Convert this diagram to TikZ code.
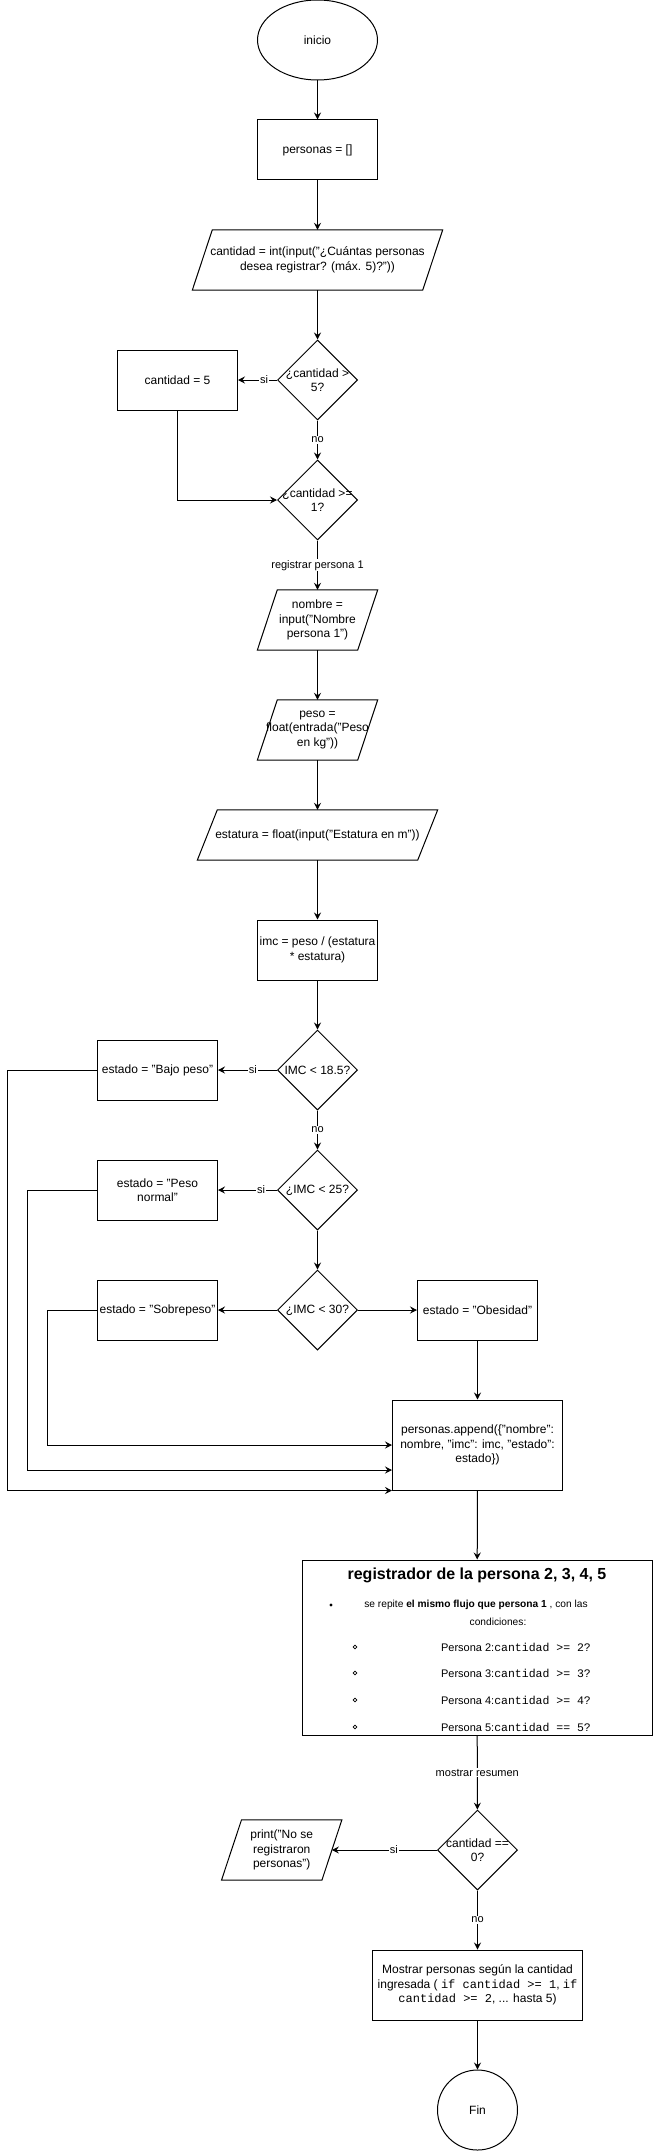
\documentclass[tikz,border=0pt]{standalone}
\usepackage{fontspec}
\setmainfont{Liberation Sans}
\setmonofont{Liberation Mono}
\usetikzlibrary{shapes.geometric,arrows.meta,calc}
\begin{document}
\begin{tikzpicture}[x=1pt,y=-1pt,
  every node/.style={font=\fontsize{12}{14.4}\selectfont, inner sep=1pt},
  box/.style={draw, line width=1pt, rectangle, minimum width=120pt, minimum height=60pt, align=center, inner sep=2pt},
  dec/.style={draw, line width=1pt, diamond, minimum width=80pt, minimum height=80pt, inner sep=0pt},
  oval/.style={draw, line width=1pt, ellipse, minimum width=120pt, minimum height=80pt, inner sep=0pt},
  txt/.style={align=center, inner sep=0pt},
  io/.style={minimum width=120pt, minimum height=60pt, align=center, inner sep=0pt},
  arr/.style={line width=1pt, -{Stealth[length=7pt,width=7pt,inset=2.5pt]}},
  ln/.style={line width=1pt},
  lbl/.style={font=\fontsize{11}{13}\selectfont, fill=white, inner sep=1pt},
  small/.style={font=\fontsize{11}{13}\selectfont, inner sep=0pt},
  smaller/.style={font=\fontsize{10.2}{12}\selectfont, inner sep=0pt},
]
\fill[white] (0,0) rectangle (653,2151);
\useasboundingbox (0,0) rectangle (653,2151);

% nodes
\node[oval] (inicio) at (317.5,40) {inicio};
\node[box] (personas) at (317.5,150) {personas = []};
\node[io, minimum width=250pt] (inp) at (317.5,260) {cantidad = int(input("¿Cuántas personas\\desea registrar? (máx. 5)?"))};
\node[dec] (d1) at (317.5,380) {};
\node[txt] (d1t) at (317.5,380) {¿cantidad >\\5?};
\node[box] (c5) at (177.5,380) {cantidad = 5};
\node[dec] (d2) at (317.5,500) {};
\node[txt] (d2t) at (317.5,500) {¿cantidad >=\\1?};
\node[io] (nombre) at (317.5,620) {nombre =\\input("Nombre\\persona 1")};
\node[io] (peso) at (317.5,730) {peso =\\float(entrada("Peso\\en kg"))};
\node[io, minimum width=240pt, minimum height=50pt] (estatura) at (317.5,835) {estatura = float(input("Estatura en m"))};
\node[box] (imc) at (317.5,950) {imc = peso / (estatura\\* estatura)};
\node[dec] (dB) at (317.5,1070) {};
\node[txt] (dBt) at (317.5,1070) {IMC < 18.5?};
\node[box] (bajo) at (157.5,1070) {estado = "Bajo peso"};
\node[dec] (d25) at (317.5,1190) {};
\node[txt] (d25t) at (317.5,1190) {¿IMC < 25?};
\node[box] (normal) at (157.5,1190) {estado = "Peso\\normal"};
\node[dec] (d30) at (317.5,1310) {};
\node[txt] (d30t) at (317.5,1310) {¿IMC < 30?};
\node[box] (sobre) at (157.5,1310) {estado = "Sobrepeso"};
\node[box] (obes) at (477.5,1310) {estado = "Obesidad"};
\node[box, minimum width=170pt, minimum height=90pt] (append) at (477.5,1445) {personas.append(\{"nombre":\\nombre, "imc": imc, "estado":\\estado\})};
\node[box, minimum width=350pt, minimum height=175pt] (reg) at (477,1647.5) {};
\node[txt, font=\bfseries\fontsize{16}{19}\selectfont] (regt) at (477,1575) {registrador de la persona 2, 3, 4, 5};
\node[smaller] (regl1) at (476,1605) {se repite \textbf{el mismo flujo que persona 1} , con las};
\node[smaller] (regl2) at (498,1622) {condiciones:};
\fill (331,1605) circle (1.6pt);
\node[small] (p2) at (516,1647) {Persona 2:\texttt{\fontsize{11.5}{13}\selectfont cantidad >= 2?}};
\node[small] (p3) at (516,1673) {Persona 3:\texttt{\fontsize{11.5}{13}\selectfont cantidad >= 3?}};
\node[small] (p4) at (516,1700) {Persona 4:\texttt{\fontsize{11.5}{13}\selectfont cantidad >= 4?}};
\node[small] (p5) at (516,1727) {Persona 5:\texttt{\fontsize{11.5}{13}\selectfont cantidad == 5?}};
\foreach \yy in {1647,1673,1700,1727} \draw[line width=0.7pt] (355,\yy) circle (1.8pt);
\node[dec] (d0) at (477.5,1850) {};
\node[txt] (d0t) at (477.5,1850) {cantidad ==\\0?};
\node[io] (print) at (281.7,1850) {print("No se\\registraron\\personas")};
\node[box, minimum width=210pt, minimum height=70pt] (mostrar) at (477.5,1985) {Mostrar personas según la cantidad\\ingresada ( \texttt{if cantidad >= 1}, \texttt{if}\\\texttt{cantidad >= 2}, ... hasta 5)};
\node[oval, minimum width=80pt] (fin) at (477.5,2110) {Fin};

% parallelograms
\foreach \n in {inp,nombre,peso,estatura,print}
  \draw[ln] ([xshift=20pt]\n.north west) -- (\n.north east) -- ([xshift=-20pt]\n.south east) -- (\n.south west) -- cycle;

% connectors
\draw[arr] (inicio) -- (personas);
\draw[arr] (personas) -- (inp);
\draw[arr] (inp) -- (d1);
\draw[arr] (d1) -- node[lbl,pos=0.33]{si} (c5);
\draw[arr] (d1) -- node[lbl]{no} (d2);
\draw[arr] (c5.south) |- (d2.west);
\draw[arr] (d2) -- node[lbl]{registrar persona 1} (nombre);
\draw[arr] (nombre) -- (peso);
\draw[arr] (peso) -- (estatura);
\draw[arr] (estatura) -- (imc);
\draw[arr] (imc) -- (dB);
\draw[arr] (dB) -- node[lbl,pos=0.41]{si} (bajo);
\draw[arr] (dB) -- node[lbl]{no} (d25);
\draw[arr] (d25) -- node[lbl,pos=0.27]{si} (normal);
\draw[arr] (d25) -- (d30);
\draw[arr] (d30) -- (sobre);
\draw[arr] (d30) -- (obes);
\draw[arr] (obes) -- (append);
\draw[arr] (sobre.west) -- ++(-50,0) |- (append.west);
\draw[arr] (normal.west) -- ++(-70,0) |- ([yshift=-25pt]append.west);
\draw[arr] (bajo.west) -- ++(-90,0) |- (append.south west);
\draw[arr] (append) -- (reg);
\draw[arr] (reg) -- node[lbl]{mostrar resumen} (d0);
\draw[arr] (d0) -- node[lbl,pos=0.41]{si} ([xshift=-10pt]print.east);
\draw[arr] (d0) -- node[lbl]{no} (mostrar);
\draw[arr] (mostrar) -- (fin);
\end{tikzpicture}
\end{document}
